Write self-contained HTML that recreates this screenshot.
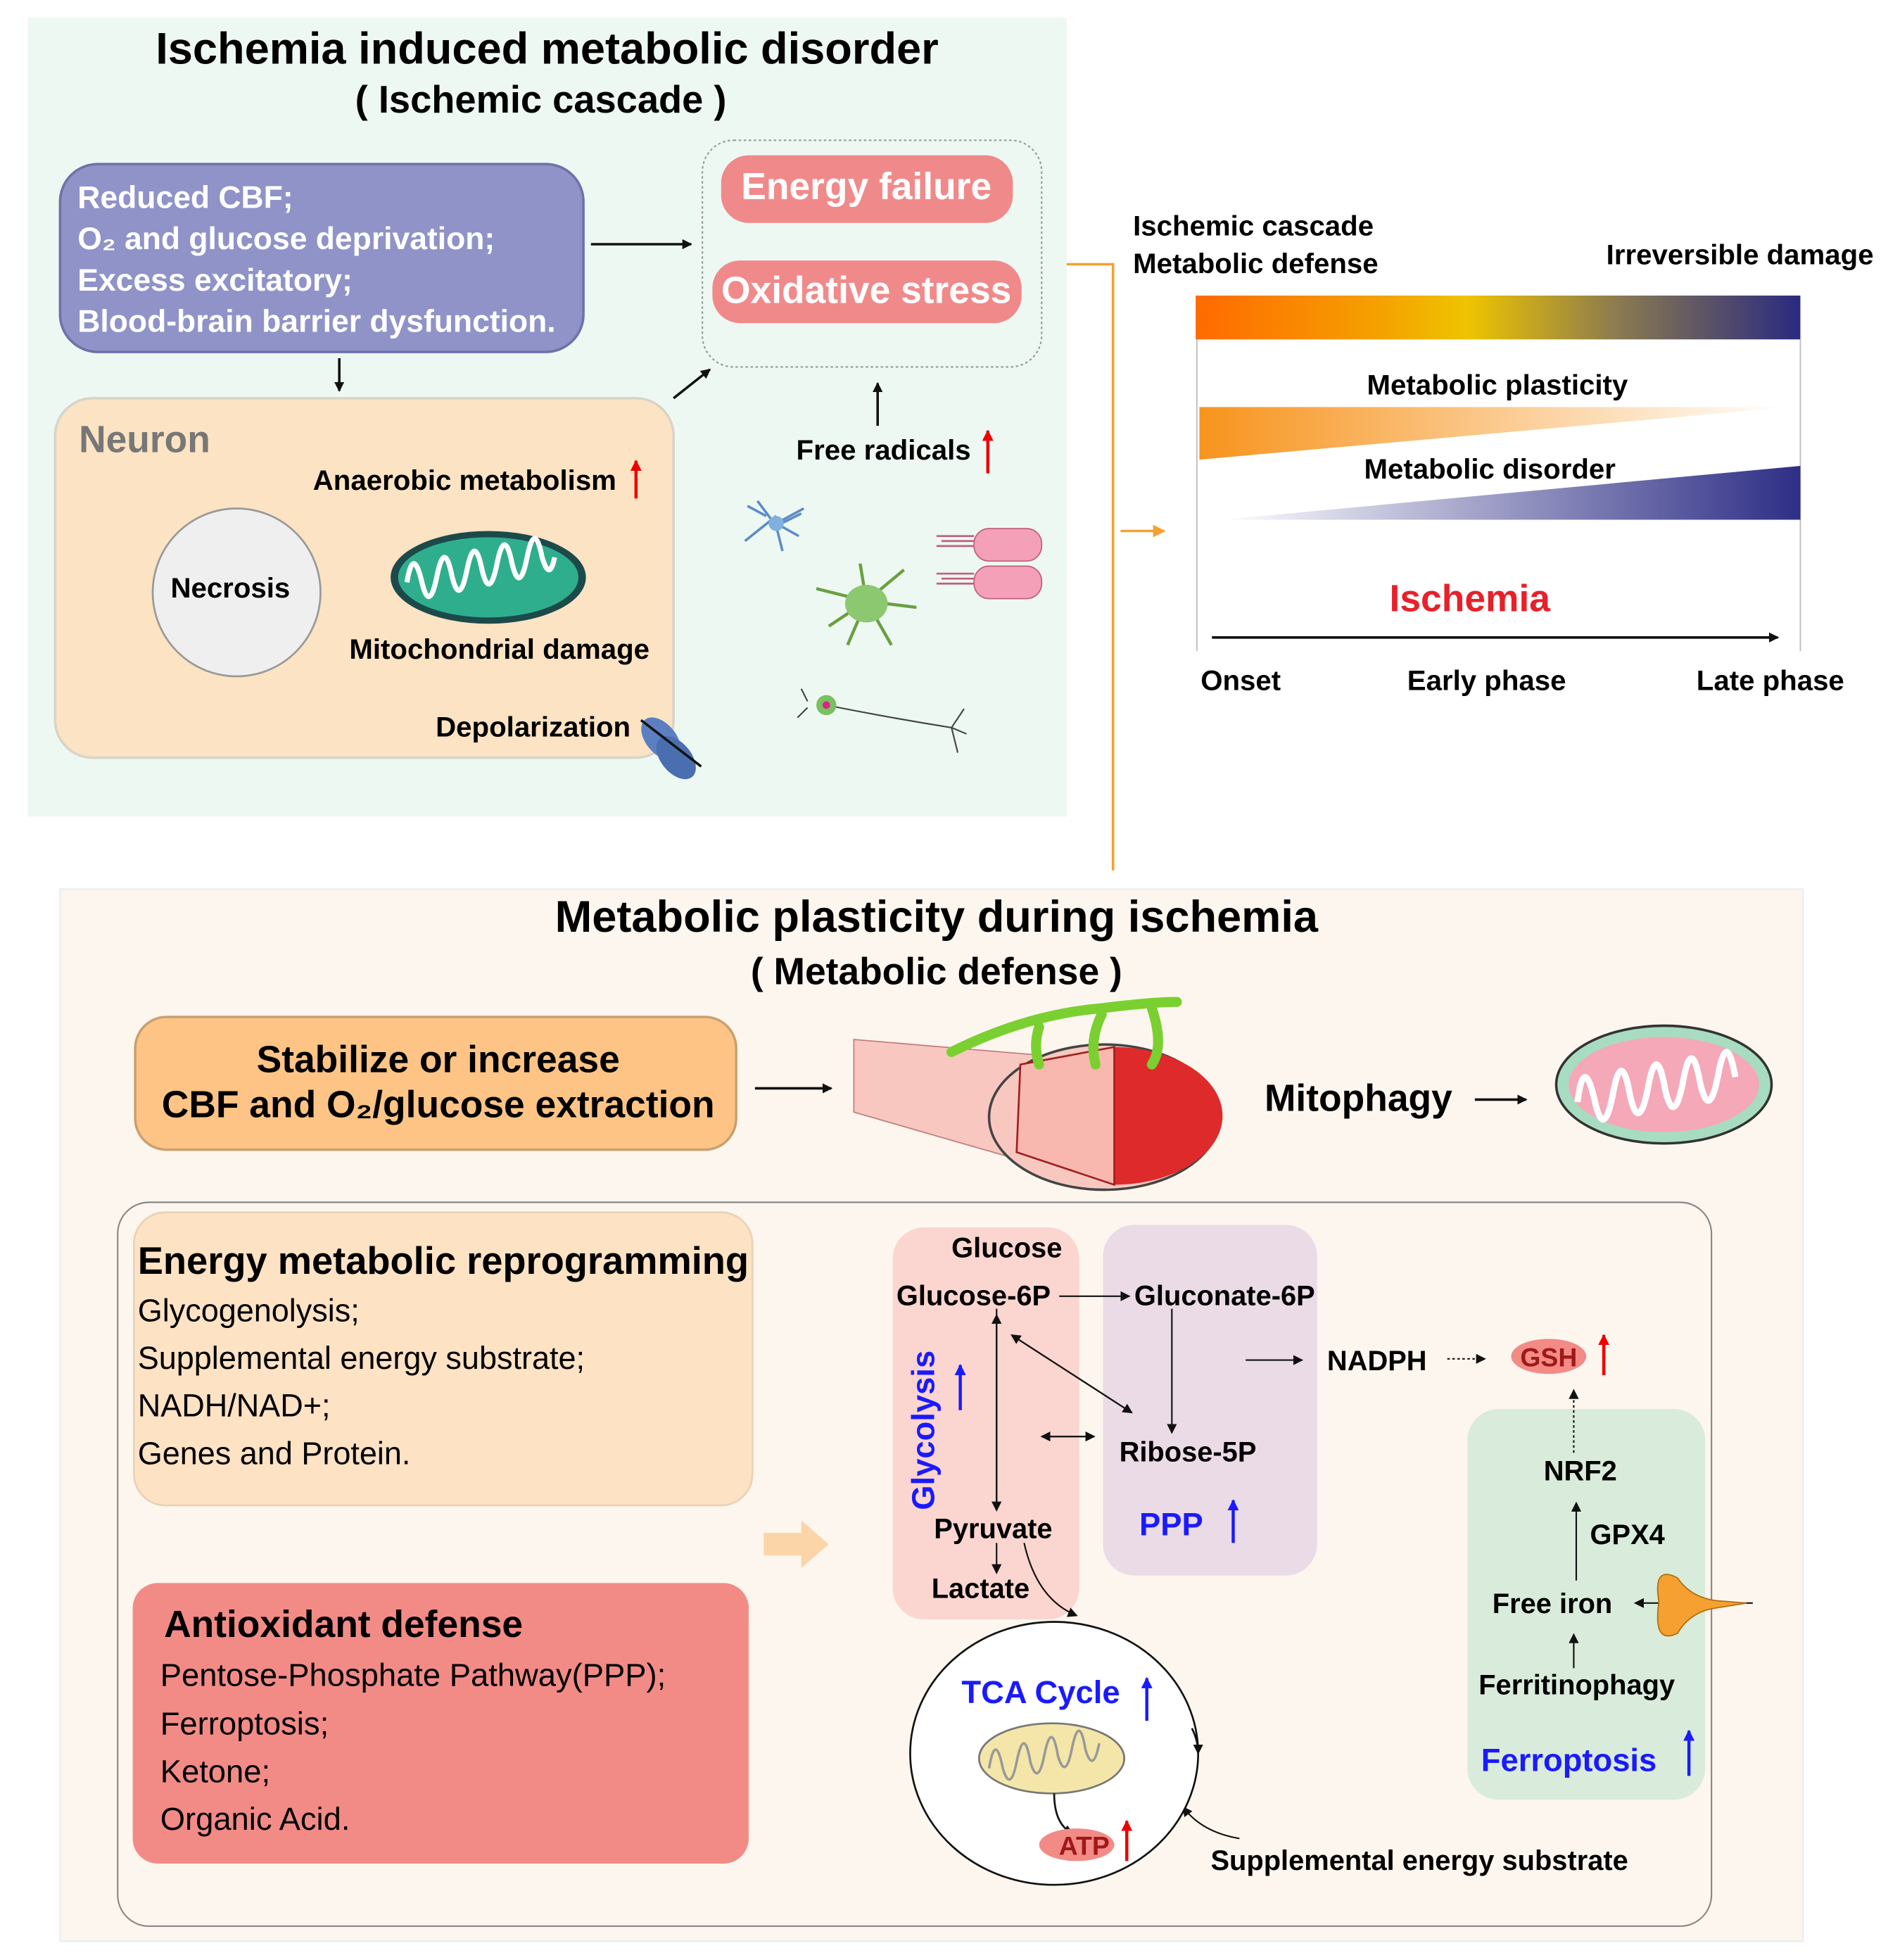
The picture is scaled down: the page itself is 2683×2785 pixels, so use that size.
<!DOCTYPE html>
<html><head><meta charset="utf-8"><style>
html,body{margin:0;padding:0;background:#fff}
svg{display:block}
text{font-family:"Liberation Sans",Arial,sans-serif}
.b{font-weight:bold}
</style></head><body>
<svg width="2683" height="2785" viewBox="0 0 1508 1565" preserveAspectRatio="none" xmlns="http://www.w3.org/2000/svg">
<defs>
<marker id="ar" markerWidth="8" markerHeight="8" refX="7" refY="4" orient="auto" markerUnits="userSpaceOnUse"><path d="M0,0 L8,4 L0,8 Z" fill="#111"/></marker>
<marker id="ao" markerWidth="10" markerHeight="10" refX="9" refY="5" orient="auto" markerUnits="userSpaceOnUse"><path d="M0,0 L10,5 L0,10 Z" fill="#f5a030"/></marker>
<marker id="ared" markerWidth="9" markerHeight="9" refX="8" refY="4.5" orient="auto" markerUnits="userSpaceOnUse"><path d="M0,0 L9,4.5 L0,9 Z" fill="#e00"/></marker>
<marker id="ablue" markerWidth="9" markerHeight="9" refX="8" refY="4.5" orient="auto" markerUnits="userSpaceOnUse"><path d="M0,0 L9,4.5 L0,9 Z" fill="#1a1aff"/></marker>
<linearGradient id="bar" x1="0" x2="1"><stop offset="0" stop-color="#ff6a00"/><stop offset="0.3" stop-color="#f5a000"/><stop offset="0.45" stop-color="#eec400"/><stop offset="0.7" stop-color="#8a7a50"/><stop offset="1" stop-color="#2a2a80"/></linearGradient>
<linearGradient id="og" x1="0" x2="1"><stop offset="0" stop-color="#f7941d"/><stop offset="1" stop-color="#f7941d" stop-opacity="0"/></linearGradient>
<linearGradient id="ng" x1="0" x2="1"><stop offset="0" stop-color="#2e2e86" stop-opacity="0"/><stop offset="1" stop-color="#2e2e86"/></linearGradient>
</defs>

<!-- top panel -->
<rect x="22" y="14" width="830" height="638" fill="#eef8f3"/>
<text x="437" y="51" text-anchor="middle" class="b" font-size="35.5">Ischemia induced metabolic disorder</text>
<text x="432" y="90" text-anchor="middle" class="b" font-size="30.5">( Ischemic cascade )</text>

<rect x="48" y="131" width="418" height="150" rx="30" fill="#8f93c8" stroke="#6d72a8" stroke-width="2"/>
<g fill="#fff" class="b" font-size="25" font-weight="bold">
<text x="62" y="166">Reduced CBF;</text>
<text x="62" y="199">O₂ and glucose deprivation;</text>
<text x="62" y="232">Excess excitatory;</text>
<text x="62" y="265">Blood-brain barrier dysfunction.</text>
</g>
<line x1="472" y1="195" x2="552" y2="195" stroke="#111" stroke-width="2" marker-end="url(#ar)"/>
<rect x="561" y="112" width="271" height="181" rx="25" fill="none" stroke="#999" stroke-width="1.2" stroke-dasharray="2,2"/>
<rect x="576" y="124" width="233" height="54" rx="22" fill="#f08a8a"/>
<text x="692" y="159" text-anchor="middle" fill="#fff" class="b" font-size="30">Energy failure</text>
<rect x="569" y="208" width="247" height="50" rx="22" fill="#f08a8a"/>
<text x="692" y="242" text-anchor="middle" fill="#fff" class="b" font-size="30">Oxidative stress</text>
<line x1="271" y1="286" x2="271" y2="312" stroke="#111" stroke-width="2" marker-end="url(#ar)"/>
<line x1="538" y1="318" x2="567" y2="295" stroke="#111" stroke-width="2" marker-end="url(#ar)"/>

<rect x="44" y="318" width="494" height="287" rx="30" fill="#fbe3c3" stroke="#d8d4c8" stroke-width="2"/>
<text x="63" y="361" fill="#777" class="b" font-size="30">Neuron</text>
<text x="250" y="391" class="b" font-size="22.6">Anaerobic metabolism</text>
<line x1="508" y1="398" x2="508" y2="368" stroke="#e00" stroke-width="2.5" marker-end="url(#ared)"/>
<circle cx="189" cy="473" r="67" fill="#efefef" stroke="#999" stroke-width="1.5"/>
<text x="184" y="477" text-anchor="middle" class="b" font-size="22.6">Necrosis</text>
<ellipse cx="390" cy="461" rx="78" ry="37" fill="#1c4a4a"/>
<ellipse cx="390" cy="461" rx="72" ry="32" fill="#2fae8e"/>
<path d="M325,465 q5,-30 12,0 q6,25 12,-5 q6,-30 12,0 q6,25 12,-5 q6,-30 12,0 q6,25 12,-5 q6,-30 12,0 q6,25 12,-5 q6,-30 12,0 q6,20 10,0" fill="none" stroke="#fff" stroke-width="4"/>
<text x="279" y="526" class="b" font-size="22.6">Mitochondrial damage</text>
<text x="348" y="588" class="b" font-size="22.6">Depolarization</text>
<ellipse cx="528" cy="590" rx="12" ry="20" fill="#5b7fc0" transform="rotate(-40 528 590)"/>
<ellipse cx="540" cy="605" rx="12" ry="20" fill="#4a6fb0" transform="rotate(-40 540 605)"/>
<line x1="512" y1="575" x2="560" y2="612" stroke="#111" stroke-width="2"/>
<line x1="701" y1="340" x2="701" y2="306" stroke="#111" stroke-width="2" marker-end="url(#ar)"/>
<text x="636" y="367" class="b" font-size="22.6">Free radicals</text>
<line x1="789" y1="378" x2="789" y2="344" stroke="#e00" stroke-width="2.5" marker-end="url(#ared)"/>
<!-- cells -->
<g stroke="#5b8cc8" stroke-width="2" fill="none"><path d="M595,432 l25,-20 M605,400 l15,20 l20,-10 M620,420 l5,20 M612,412 l-15,-8 M620,418 l22,-12 M620,418 l18,10"/></g>
<circle cx="620" cy="418" r="6" fill="#7fb0e0"/>
<g stroke="#6aa040" stroke-width="2.5" fill="none"><path d="M692,480 l-40,-10 M692,480 l30,-25 M692,480 l40,5 M692,480 l-15,35 M692,480 l20,35 M692,480 l-5,-30 M692,480 l-30,20"/></g>
<ellipse cx="692" cy="482" rx="17" ry="15" fill="#8cc870"/>
<g fill="#f4a0b8" stroke="#c06080"><rect x="778" y="422" width="54" height="26" rx="12"/><rect x="778" y="452" width="54" height="26" rx="12"/></g>
<g stroke="#c06080" stroke-width="1.5"><path d="M748,428 h30 M748,436 h30 M748,458 h30 M748,466 h30 M752,432 h26 M752,462 h26"/></g>
<g stroke="#444" stroke-width="1.2" fill="none"><path d="M660,563 q50,10 100,18 M760,581 l10,-15 M760,581 l12,5 M760,581 l5,20 M645,560 l-5,-10 M645,565 l-8,8"/></g>
<circle cx="660" cy="563" r="8" fill="#78c060"/><circle cx="660" cy="563" r="3" fill="#e0208a"/>

<!-- orange connectors -->
<polyline points="852,211 889,211 889,695" fill="none" stroke="#f5a030" stroke-width="2"/>
<line x1="895" y1="424" x2="930" y2="424" stroke="#f5a030" stroke-width="2" marker-end="url(#ao)"/>

<!-- chart -->
<text x="905" y="188" class="b" font-size="22.6">Ischemic cascade</text>
<text x="905" y="218" class="b" font-size="22.6">Metabolic defense</text>
<text x="1283" y="211" class="b" font-size="22.6">Irreversible damage</text>
<rect x="955" y="236" width="483" height="35" fill="url(#bar)"/>
<line x1="956" y1="271" x2="956" y2="520" stroke="#bbb" stroke-width="1"/>
<line x1="1438" y1="271" x2="1438" y2="520" stroke="#bbb" stroke-width="1"/>
<text x="1196" y="315" text-anchor="middle" class="b" font-size="22.6">Metabolic plasticity</text>
<polygon points="958,325 1430,325 958,367" fill="url(#og)"/>
<text x="1190" y="382" text-anchor="middle" class="b" font-size="22.6">Metabolic disorder</text>
<polygon points="975,415 1438,372 1438,415" fill="url(#ng)"/>
<text x="1174" y="488" text-anchor="middle" class="b" font-size="30" fill="#e8202a">Ischemia</text>
<line x1="968" y1="509" x2="1420" y2="509" stroke="#111" stroke-width="2" marker-end="url(#ar)"/>
<text x="959" y="551" class="b" font-size="22.6">Onset</text>
<text x="1124" y="551" class="b" font-size="22.6">Early phase</text>
<text x="1355" y="551" class="b" font-size="22.6">Late phase</text>

<!-- bottom panel -->
<rect x="48" y="710" width="1392" height="840" fill="#fdf6ee" stroke="#eee" stroke-width="1.5"/>
<text x="748" y="744" text-anchor="middle" class="b" font-size="35.5">Metabolic plasticity during ischemia</text>
<text x="748" y="786" text-anchor="middle" class="b" font-size="30">( Metabolic defense )</text>
<rect x="108" y="812" width="480" height="106" rx="25" fill="#fdc486" stroke="#c9a070" stroke-width="2"/>
<text x="350" y="856" text-anchor="middle" class="b" font-size="30">Stabilize or increase</text>
<text x="350" y="892" text-anchor="middle" class="b" font-size="30">CBF and O₂/glucose extraction</text>
<line x1="603" y1="869" x2="664" y2="869" stroke="#111" stroke-width="2" marker-end="url(#ar)"/>
<!-- vessel -->
<path d="M682,830 L860,845 L880,945 L682,888 Z" fill="#f8c8c0" stroke="#c08080"/>
<ellipse cx="882" cy="892" rx="92" ry="58" fill="#f8c8c0" stroke="#444" stroke-width="2"/>
<path d="M890,836 A85,54 0 0 1 890,946 Z" fill="#de2a2a"/>
<path d="M815,850 L890,836 L890,946 L812,920 Z" fill="#f8b8b0" stroke="#a02020" stroke-width="1.5"/>
<path d="M760,840 q60,-30 120,-35 q40,-5 60,-5 M880,810 q-10,20 -5,40 M920,805 q10,30 0,45 M830,820 q-5,15 0,30" fill="none" stroke="#7ad030" stroke-width="8" stroke-linecap="round"/>
<text x="1010" y="887" class="b" font-size="30">Mitophagy</text>
<line x1="1178" y1="878" x2="1219" y2="878" stroke="#111" stroke-width="2" marker-end="url(#ar)"/>
<ellipse cx="1329" cy="866" rx="86" ry="47" fill="#a8dcc0" stroke="#333" stroke-width="2"/>
<ellipse cx="1329" cy="866" rx="76" ry="38" fill="#f4a8b8"/>
<path d="M1260,880 q5,-40 14,0 q7,30 14,-5 q7,-40 14,0 q7,30 14,-5 q7,-40 14,0 q7,30 14,-5 q7,-40 14,0 q7,30 14,-5 q7,-40 14,0" fill="none" stroke="#fff" stroke-width="5"/>

<rect x="94" y="960" width="1273" height="578" rx="25" fill="none" stroke="#888" stroke-width="1.2"/>
<rect x="107" y="968" width="494" height="234" rx="25" fill="#fde2c4" stroke="#e8d2b8" stroke-width="1.5"/>
<text x="110" y="1017" class="b" font-size="30.5">Energy metabolic reprogramming</text>
<g font-size="25.3"><text x="110" y="1055">Glycogenolysis;</text><text x="110" y="1093">Supplemental energy substrate;</text><text x="110" y="1131">NADH/NAD+;</text><text x="110" y="1169">Genes and Protein.</text></g>
<rect x="106" y="1264" width="492" height="224" rx="20" fill="#f28b86"/>
<text x="131" y="1307" class="b" font-size="30">Antioxidant defense</text>
<g font-size="25.5"><text x="128" y="1346">Pentose-Phosphate Pathway(PPP);</text><text x="128" y="1385">Ferroptosis;</text><text x="128" y="1423">Ketone;</text><text x="128" y="1461">Organic Acid.</text></g>
<polygon points="610,1224 640,1224 640,1214 662,1233 640,1252 640,1242 610,1242" fill="#fbd5a8"/>

<rect x="713" y="980" width="149" height="313" rx="25" fill="#fbd5cf"/>
<rect x="881" y="978" width="171" height="280" rx="25" fill="#eadbe6"/>
<rect x="1172" y="1125" width="190" height="312" rx="25" fill="#d9ecdc"/>
<g class="b" font-size="22.4" font-weight="bold">
<text x="760" y="1004">Glucose</text>
<text x="716" y="1042">Glucose-6P</text>
<text x="906" y="1042">Gluconate-6P</text>
<text x="894" y="1167">Ribose-5P</text>
<text x="746" y="1228">Pyruvate</text>
<text x="744" y="1276">Lactate</text>
<text x="1060" y="1094">NADPH</text>
<text x="1233" y="1182">NRF2</text>
<text x="1270" y="1233">GPX4</text>
<text x="1192" y="1288">Free iron</text>
<text x="1181" y="1353">Ferritinophagy</text>
</g>
<text x="746" y="1142" text-anchor="middle" class="b" font-size="25.5" fill="#1a1aff" transform="rotate(-90 746 1142)">Glycolysis</text>
<line x1="767" y1="1126" x2="767" y2="1090" stroke="#1a1aff" stroke-width="2.5" marker-end="url(#ablue)"/>
<text x="910" y="1226" class="b" font-size="25.5" fill="#1a1aff">PPP</text>
<line x1="985" y1="1232" x2="985" y2="1198" stroke="#1a1aff" stroke-width="2.5" marker-end="url(#ablue)"/>
<text x="1183" y="1414" class="b" font-size="25.5" fill="#1a1aff">Ferroptosis</text>
<line x1="1349" y1="1418" x2="1349" y2="1382" stroke="#1a1aff" stroke-width="2.5" marker-end="url(#ablue)"/>
<g stroke="#111" stroke-width="1.2" fill="none">
<line x1="846" y1="1035" x2="902" y2="1035" marker-end="url(#ar)"/>
<line x1="796" y1="1045" x2="796" y2="1206" marker-end="url(#ar)"/>
<line x1="796" y1="1206" x2="796" y2="1050" marker-end="url(#ar)"/>
<line x1="936" y1="1045" x2="936" y2="1144" marker-end="url(#ar)"/>
<line x1="808" y1="1066" x2="904" y2="1128" marker-end="url(#ar)"/>
<line x1="904" y1="1128" x2="808" y2="1066" marker-end="url(#ar)"/>
<line x1="832" y1="1147" x2="874" y2="1147" marker-end="url(#ar)"/>
<line x1="874" y1="1147" x2="832" y2="1147" marker-end="url(#ar)"/>
<line x1="796" y1="1232" x2="796" y2="1256" marker-end="url(#ar)"/>
<line x1="995" y1="1086" x2="1040" y2="1086" marker-end="url(#ar)"/>
<line x1="1156" y1="1085" x2="1186" y2="1085" stroke-dasharray="2,2" marker-end="url(#ar)"/>
<line x1="1257" y1="1160" x2="1257" y2="1110" stroke-dasharray="2,2" marker-end="url(#ar)"/>
<line x1="1259" y1="1262" x2="1259" y2="1200" marker-end="url(#ar)"/>
<line x1="1257" y1="1332" x2="1257" y2="1305" marker-end="url(#ar)"/>
<line x1="1400" y1="1280" x2="1306" y2="1280" marker-end="url(#ar)"/>
<path d="M818,1232 q10,45 42,58" marker-end="url(#ar)"/>
<path d="M990,1468 q-30,-5 -45,-25" marker-end="url(#ar)"/>
</g>
<ellipse cx="1237" cy="1083" rx="30" ry="14" fill="#f28b86"/>
<text x="1237" y="1091" text-anchor="middle" class="b" font-size="21" fill="#a01818">GSH</text>
<line x1="1281" y1="1098" x2="1281" y2="1066" stroke="#e00" stroke-width="2.5" marker-end="url(#ared)"/>
<!-- orange receptor -->
<path d="M1340,1260 q10,15 30,18 l25,2 l-25,4 q-20,3 -30,20 q-20,10 -15,-25 q-5,-30 15,-19 Z" fill="#f5a030" stroke="#b07010"/>
<!-- TCA -->
<ellipse cx="842" cy="1400" rx="115" ry="105" fill="#fff" stroke="#111" stroke-width="1.5"/>
<path d="M952,1380 q5,10 5,20" fill="none" stroke="#111" stroke-width="1.5" marker-end="url(#ar)"/>
<text x="768" y="1360" class="b" font-size="25.5" fill="#1a1aff">TCA Cycle</text>
<line x1="916" y1="1374" x2="916" y2="1340" stroke="#1a1aff" stroke-width="2.5" marker-end="url(#ablue)"/>
<ellipse cx="840" cy="1404" rx="58" ry="28" fill="#f3e6a8" stroke="#777" stroke-width="1.5"/>
<path d="M790,1412 q5,-30 11,0 q6,20 11,-5 q6,-30 11,0 q6,20 11,-5 q6,-30 11,0 q6,20 11,-5 q6,-30 11,0 q6,20 11,-5" fill="none" stroke="#999" stroke-width="2"/>
<path d="M842,1432 q0,25 15,32" fill="none" stroke="#111" stroke-width="1.5" marker-end="url(#ar)"/>
<ellipse cx="860" cy="1473" rx="30" ry="13" fill="#f28b86"/>
<text x="866" y="1481" text-anchor="middle" class="b" font-size="21" fill="#a01818">ATP</text>
<line x1="900" y1="1486" x2="900" y2="1454" stroke="#e00" stroke-width="2.5" marker-end="url(#ared)"/>
<text x="967" y="1493" class="b" font-size="22.4">Supplemental energy substrate</text>
</svg>
</body></html>
